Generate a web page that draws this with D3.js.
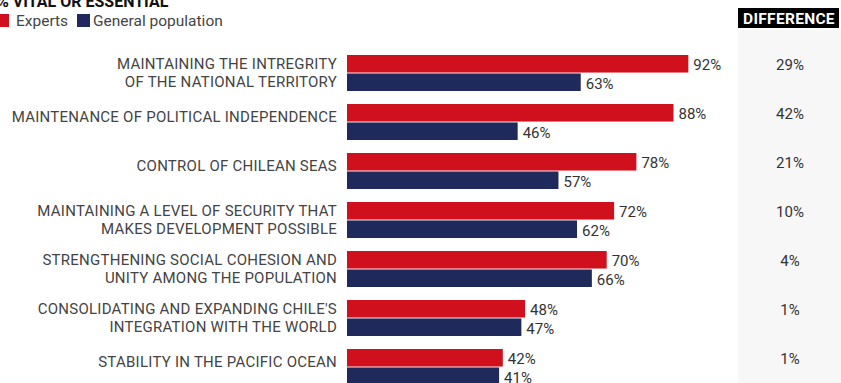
<!DOCTYPE html>
<html>
<head>
<meta charset="utf-8">
<script src="https://cdn.jsdelivr.net/npm/d3@7/dist/d3.min.js"></script>
<style>
  html, body { margin: 0; padding: 0; background: #fff; overflow: hidden; }
  svg { display: block; font-family: Roboto, "Noto Sans", sans-serif; }
</style>
</head>
<body>
<svg id="chart" width="841" height="383"></svg>
<script>
// Share of respondents rating each objective as vital or essential
const categories = [
  ["MAINTAINING THE INTREGRITY", "OF THE NATIONAL TERRITORY"],
  ["MAINTENANCE OF POLITICAL INDEPENDENCE"],
  ["CONTROL OF CHILEAN SEAS"],
  ["MAINTAINING A LEVEL OF SECURITY THAT", "MAKES DEVELOPMENT POSSIBLE"],
  ["STRENGTHENING SOCIAL COHESION AND", "UNITY AMONG THE POPULATION"],
  ["CONSOLIDATING AND EXPANDING CHILE'S", "INTEGRATION WITH THE WORLD"],
  ["STABILITY IN THE PACIFIC OCEAN"]
];
const experts    = [92, 88, 78, 72, 70, 48, 42];
const generalPop = [63, 46, 57, 62, 66, 47, 41];
const difference = [29, 42, 21, 10, 4, 1, 1];
const seriesNames = ["Experts", "General population"];
const seriesColors = ["#d0111d", "#1f295c"];

const svg = d3.select("#chart");
const idx = d3.range(categories.length);

const x = d3.scaleLinear().domain([0, 100]).range([347, 718]);
const y = d3.scaleBand().domain(idx).range([55, 55 + 49 * categories.length]).padding(0);
const ySub = d3.scaleBand().domain([0, 1]).range([0, 36]).paddingInner(0.05);

// Difference column background and header
svg.append("rect").attr("x", 738).attr("y", 30).attr("width", 103).attr("height", 353)
  .attr("fill", "#f7f7f7");
svg.append("rect").attr("x", 738).attr("y", 8).attr("width", 101).attr("height", 20)
  .attr("fill", "#000");
svg.append("text").attr("x", 789).attr("y", 23.5).attr("text-anchor", "middle")
  .attr("fill", "#fff").attr("font-weight", 700).attr("font-size", 15.5)
  .attr("letter-spacing", 0.3)
  .text("DIFFERENCE");

// Title and legend
svg.append("text").attr("x", -3).attr("y", 7).attr("font-weight", 700)
  .attr("font-size", 16).attr("fill", "#111").text("% VITAL OR ESSENTIAL");
const legend = svg.append("g");
const legendX = [0, 77];
seriesNames.forEach((name, i) => {
  legend.append("rect").attr("x", legendX[i] - (i === 0 ? 4 : 0)).attr("y", 14)
    .attr("width", 13).attr("height", 13).attr("fill", seriesColors[i]);
  legend.append("text").attr("x", legendX[i] + 16).attr("y", 25.5)
    .attr("font-size", 15.5).attr("fill", "#444").text(name);
});

// Category labels
const labels = svg.append("g").attr("font-size", 15).attr("fill", "#444")
  .attr("letter-spacing", 0.25).attr("text-anchor", "end");
idx.forEach(i => {
  const lines = categories[i];
  const top = y(i);
  const ys = lines.length === 1 ? [top + 12.5] : [top + 9, top + 27];
  lines.forEach((ln, k) => {
    labels.append("text").attr("x", 337).attr("y", ys[k]).attr("dy", "0.36em").text(ln);
  });
});

// Bars and value labels
const series = [experts, generalPop];
series.forEach((vals, s) => {
  const g = svg.append("g");
  g.selectAll("rect").data(idx).join("rect")
    .attr("x", x(0))
    .attr("y", i => y(i) + ySub(s))
    .attr("width", i => x(vals[i]) - x(0))
    .attr("height", ySub.bandwidth())
    .attr("fill", seriesColors[s]);
  g.selectAll("text").data(idx).join("text")
    .attr("x", i => x(vals[i]) + 5)
    .attr("y", i => y(i) + ySub(s) + ySub.bandwidth() / 2 + 1)
    .attr("dy", "0.36em")
    .attr("font-size", 15).attr("fill", "#333")
    .text(i => vals[i] + "%");
});

// Difference values
svg.append("g").selectAll("text").data(idx).join("text")
  .attr("x", 790).attr("y", i => y(i) + 10).attr("dy", "0.36em")
  .attr("text-anchor", "middle").attr("font-size", 15).attr("fill", "#333")
  .text(i => difference[i] + "%");
</script>
</body>
</html>
